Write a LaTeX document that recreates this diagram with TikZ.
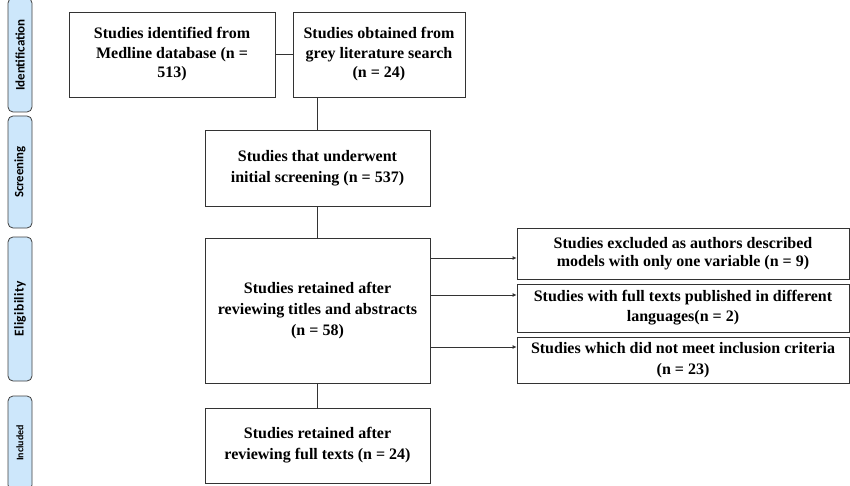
\documentclass[tikz,border=0pt]{standalone}
\usepackage{fontspec}
\setmainfont{Liberation Serif}
\newfontfamily\labelfont{Carlito}
\usetikzlibrary{arrows.meta}
\definecolor{phasefill}{RGB}{205,231,251}
\begin{document}
\begin{tikzpicture}[x=1pt,y=-1pt,
  box/.style={draw=black!80, line width=0.8pt, fill=white, align=center, inner sep=0pt,
    font=\fontsize{16}{20}\selectfont\bfseries},
  phase/.style={draw=black!75, line width=0.8pt, fill=phasefill, rounded corners=5pt, inner sep=0pt},
  phasetext/.style={rotate=90},
  conn/.style={draw=black!80, line width=0.8pt},
  arr/.style={conn, -{Latex[length=4pt,width=4pt]}}
]
\useasboundingbox (0,0) rectangle (850,486);
% phase labels
\node[phase, minimum width=24pt, minimum height=114pt] (pid) at (20,55) {};
\node[phasetext, font=\labelfont\bfseries\fontsize{13}{14}\selectfont] at (pid) {Identification};
\node[phase, minimum width=24pt, minimum height=112pt] (psc) at (20,172) {};
\node[phasetext, font=\labelfont\bfseries\fontsize{12.8}{14}\selectfont] at (psc) {Screening};
\node[phase, minimum width=24pt, minimum height=144pt] (pel) at (20,309) {};
\node[phasetext, font=\labelfont\bfseries\fontsize{13.5}{14}\selectfont\addfontfeature{LetterSpace=3}] at (pel) {Eligibility};
\node[phase, minimum width=24pt, minimum height=94pt] (pin) at (20,443) {};
\node[phasetext, font=\labelfont\bfseries\fontsize{10}{11}\selectfont] at (pin) {Included};
% boxes
\node[box, font=\fontsize{16}{19.5}\selectfont\bfseries, minimum width=206pt, minimum height=85pt] (med) at (172,54.5)
  {Studies identified from\\Medline database (n =\\513)};
\node[box, font=\fontsize{16}{19.5}\selectfont\bfseries, minimum width=172pt, minimum height=85pt] (grey) at (379,54.5)
  {Studies obtained from\\grey literature search\\(n = 24)};
\node[box, font=\fontsize{16}{21}\selectfont\bfseries, minimum width=225pt, minimum height=76pt] (scr) at (317.5,168)
  {Studies that underwent\\initial screening (n = 537)};
\node[box, font=\fontsize{16}{21}\selectfont\bfseries, minimum width=225pt, minimum height=145pt] (elig) at (317.5,310.5)
  {Studies retained after\\reviewing titles and abstracts\\(n = 58)};
\node[box, font=\fontsize{16}{21}\selectfont\bfseries, minimum width=225pt, minimum height=75pt] (inc) at (317.5,445.5)
  {Studies retained after\\reviewing full texts (n = 24)};
\node[box, font=\fontsize{16}{18}\selectfont\bfseries, minimum width=332pt, minimum height=51pt] (ex1) at (683,253.5)
  {Studies excluded as authors described\\models with only one variable (n = 9)};
\node[box, minimum width=332pt, minimum height=48pt] (ex2) at (683,308)
  {Studies with full texts published in different\\languages(n = 2)};
\node[box, font=\fontsize{16}{21}\selectfont\bfseries, minimum width=332pt, minimum height=46pt] (ex3) at (683,360)
  {Studies which did not meet inclusion criteria\\(n = 23)};
% connectors
\draw[conn] (med.east) -- (grey.west);
\coordinate (j) at (scr.north |- grey.south);
\draw[conn] (j) -- (scr.north);
\draw[conn] (scr.south) -- (elig.north);
\draw[conn] (elig.south) -- (inc.north);
\coordinate (a1) at (430,258);
\coordinate (a2) at (430,295);
\coordinate (a3) at (430,347);
\draw[arr] (a1) -- (ex1.west |- a1);
\draw[arr] (a2) -- (ex2.west |- a2);
\draw[arr] (a3) -- (ex3.west |- a3);
\end{tikzpicture}
\end{document}
